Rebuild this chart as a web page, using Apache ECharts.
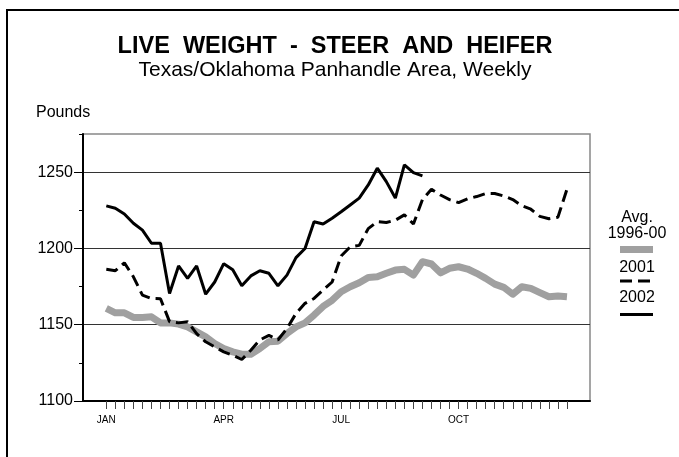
<!DOCTYPE html>
<html>
<head>
<meta charset="utf-8">
<script src="https://cdn.jsdelivr.net/npm/echarts/dist/echarts.min.js"></script>
<style>
  html, body { margin: 0; padding: 0; background: #fff; }
  #chart { width: 679px; height: 457px; }
</style>
</head>
<body>
<div id="chart"></div>
<script>
// weekly values, week 0 = first week of JAN
const avg9600 = [1160.7, 1157.8, 1157.8, 1154.8, 1154.8, 1155.2, 1151.2, 1151.2, 1150.4, 1148.6,
  1145.3, 1142, 1137.7, 1134.4, 1132.2, 1130.7, 1130.7, 1134.4, 1138.8, 1139.2,
  1144.2, 1148.6, 1151.2, 1156.3, 1162, 1166, 1171.6, 1174.9, 1177.5, 1181,
  1181.4, 1183.7, 1185.8, 1186.3, 1182.5, 1191.3, 1189.8, 1184, 1187, 1188,
  1186.5, 1183.7, 1180.4, 1176.6, 1174.5, 1170, 1174.9, 1173.8, 1171, 1168.3,
  1168.8, 1168.3];
const y2001 = [1186.3, 1185.4, 1190.6, 1181.4, 1169.4, 1167.2, 1167, 1152, 1151.2, 1152,
  1144.2, 1138.8, 1135.5, 1132.2, 1130, 1127.2, 1133.3, 1140, 1143, 1140,
  1147.5, 1157.4, 1164, 1167.2, 1172.7, 1178, 1195, 1201, 1202, 1213,
  1217.5, 1217, 1218.5, 1222, 1216, 1232, 1238.8, 1235, 1232, 1230,
  1232.5, 1234, 1236, 1236, 1234.4, 1232, 1228, 1225.7, 1221, 1219.5,
  1220.5, 1238.8];
const y2002 = [1227.9, 1226.3, 1222.6, 1216.5, 1212, 1203.4, 1203.4, 1170.5, 1188.5, 1180.4,
  1188.5, 1170, 1178, 1190, 1186, 1175.5, 1182, 1185.4, 1183.7, 1175.5,
  1182.5, 1194, 1200, 1217.5, 1216, 1219.8, 1224, 1228.5, 1233, 1241.6,
  1252.6, 1243.8, 1233, 1254.8, 1249.7, 1247.6];

const weekTicks = [];
for (let i = 0; i < 52; i++) weekTicks.push(i);
const monthTicks = [0, 13, 26, 39];
const monthLabels = ['JAN', 'APR', 'JUL', 'OCT'];
const yMajorTicks = [1100, 1150, 1200, 1250];

function pairs(vals) {
  return vals.map(function(v, i) { return [i, v]; });
}

const myChart = echarts.init(document.getElementById('chart'), null, { renderer: 'canvas' });
const font = 'Liberation Sans, Arial, sans-serif';

function legendText(txt, y) {
  return {
    type: 'text', x: 637, y: y,
    style: { text: txt, font: '16px ' + font, textAlign: 'center', textVerticalAlign: 'middle', fill: '#000' },
  };
}

const option = {
  animation: false,
  textStyle: { fontFamily: font },
  title: [
    {
      text: 'LIVE  WEIGHT  -  STEER  AND  HEIFER',
      left: 330, top: 30, textAlign: 'center',
      textStyle: { fontFamily: font, fontSize: 23.5, fontWeight: 'bold', color: '#000' },
    },
    {
      text: 'Texas/Oklahoma Panhandle Area, Weekly',
      left: 330, top: 55, textAlign: 'center',
      textStyle: { fontFamily: font, fontSize: 21, fontWeight: 'normal', color: '#000' },
    },
    {
      text: 'Pounds',
      left: 31, top: 100,
      textStyle: { fontFamily: font, fontSize: 16, fontWeight: 'normal', color: '#000' },
    },
  ],
  grid: {
    left: 83, top: 134, width: 507, height: 267,
    show: true, borderColor: '#888', borderWidth: 1.5, backgroundColor: 'transparent',
  },
  xAxis: {
    type: 'value',
    min: -2.58,
    max: 53.55,
    axisLine: { show: true, onZero: false, lineStyle: { color: '#000', width: 2 } },
    axisTick: {
      show: true, inside: false, length: 8,
      customValues: weekTicks,
      lineStyle: { color: '#444', width: 1 },
    },
    axisLabel: {
      customValues: monthTicks,
      formatter: function(v) { return monthLabels[monthTicks.indexOf(v)] || ''; },
      fontSize: 10, color: '#000', margin: 14,
    },
    splitLine: { show: false },
  },
  yAxis: [
    {
      type: 'value', position: 'left',
      min: 1100, max: 1275, interval: 50,
      axisLine: { show: true, onZero: false, lineStyle: { color: '#000', width: 2 } },
      axisTick: { show: true, length: 9, customValues: yMajorTicks, lineStyle: { color: '#000' } },
      axisLabel: {
        customValues: yMajorTicks,
        formatter: function(v) { return v % 50 === 0 && v < 1275 ? String(v) : ''; },
        fontSize: 16, color: '#000', margin: 10,
      },
      splitLine: { show: true, lineStyle: { color: '#333', width: 1 } },
    },
    {
      type: 'value', position: 'left', offset: 0,
      min: 1100, max: 1275, interval: 25,
      axisLine: { show: false, onZero: false },
      axisTick: { show: true, length: 4, lineStyle: { color: '#000' } },
      axisLabel: { show: false },
      splitLine: { show: false },
    },
  ],
  graphic: [
    { type: 'line', shape: { x1: 7, y1: 10, x2: 7, y2: 457 }, style: { stroke: '#000', lineWidth: 2 } },
    { type: 'line', shape: { x1: 6, y1: 10, x2: 679, y2: 10 }, style: { stroke: '#000', lineWidth: 2 } },
    legendText('Avg.', 218),
    legendText('1996-00', 234),
    { type: 'line', shape: { x1: 620, y1: 249.5, x2: 653, y2: 249.5 }, style: { stroke: '#a0a0a0', lineWidth: 7 } },
    legendText('2001', 268),
    { type: 'line', shape: { x1: 620, y1: 281, x2: 653, y2: 281 }, style: { stroke: '#000', lineWidth: 3, lineDash: [12, 6] } },
    legendText('2002', 298),
    { type: 'line', shape: { x1: 620, y1: 314.5, x2: 653, y2: 314.5 }, style: { stroke: '#000', lineWidth: 3 } },
  ],
  series: [
    {
      name: 'Avg. 1996-00', type: 'line', data: pairs(avg9600),
      showSymbol: false, symbol: 'none', z: 2,
      lineStyle: { color: '#a0a0a0', width: 7, join: 'round' },
    },
    {
      name: '2001', type: 'line', data: pairs(y2001),
      showSymbol: false, symbol: 'none', z: 3,
      lineStyle: { color: '#000', width: 3, type: [12, 6] },
    },
    {
      name: '2002', type: 'line', data: pairs(y2002),
      showSymbol: false, symbol: 'none', z: 4,
      lineStyle: { color: '#000', width: 3 },
    },
  ],
};
myChart.setOption(option);
</script>
</body>
</html>
